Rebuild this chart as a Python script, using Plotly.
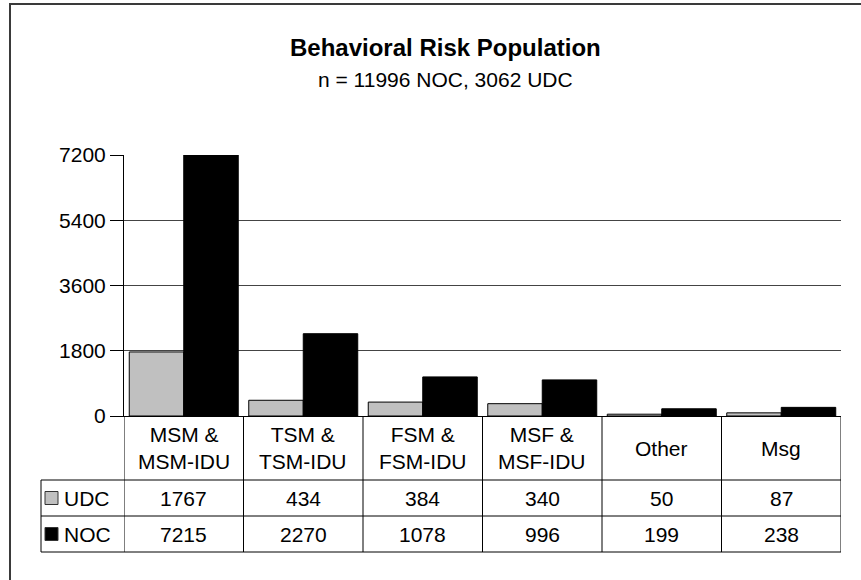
import plotly.graph_objects as go

categories = ["MSM &<br>MSM-IDU", "TSM &<br>TSM-IDU", "FSM &<br>FSM-IDU", "MSF &<br>MSF-IDU", "Other", "Msg"]
series_names = ["UDC", "NOC"]
udc_values = [1767, 434, 384, 340, 50, 87]
noc_values = [7215, 2270, 1078, 996, 199, 238]
y_ticks = [0, 1800, 3600, 5400, 7200]
title_text = "Behavioral Risk Population"
subtitle_text = "n = 11996 NOC, 3062 UDC"

colors = ["#C0C0C0", "#000000"]
FONT = "Liberation Sans, Arial, sans-serif"

W, H = 861, 580
AX_L, AX_R, AX_T, AX_B = 124, 841, 155, 416   # plot area in window pixels
L, R, T, B = AX_L, W - AX_R, AX_T, H - AX_B
PW, PH = W - L - R, H - T - B


def fx(px):
    return (px - AX_L) / PW


def fy(py):
    return (AX_B - py) / PH


xs = list(range(len(categories)))
fig = go.Figure()
for name, vals, col in zip(series_names, [udc_values, noc_values], colors):
    fig.add_trace(go.Bar(x=xs, y=vals, name=name, marker=dict(color=col, line=dict(color="black", width=1))))

shapes = []
# outer frame
shapes.append(dict(type="rect", xref="paper", yref="paper", x0=fx(10), y0=fy(4), x1=fx(905), y1=fy(640),
                   line=dict(color="#3a3a3a", width=2), layer="below"))
# data table lines
row_y = [480, 516, 552]
for yy in row_y:
    shapes.append(dict(type="line", xref="paper", yref="paper", x0=fx(41), x1=fx(841), y0=fy(yy), y1=fy(yy),
                       line=dict(color="black", width=1)))
shapes.append(dict(type="line", xref="paper", yref="paper", x0=fx(41), x1=fx(41), y0=fy(480), y1=fy(552),
                   line=dict(color="black", width=1)))
for k in range(len(categories) + 1):
    shapes.append(dict(type="line", xref="x", yref="paper", x0=k - 0.5, x1=k - 0.5, y0=fy(416), y1=fy(552),
                       line=dict(color="black", width=1)))
# legend keys
for i, col in enumerate(colors):
    cy = (498, 534)[i]
    shapes.append(dict(type="rect", xref="paper", yref="paper", x0=fx(45), x1=fx(58), y0=fy(cy - 6.5), y1=fy(cy + 6.5),
                       fillcolor=col, line=dict(color="#333333", width=1)))

annotations = []
annotations.append(dict(text="<b>" + title_text + "</b>", xref="paper", yref="paper", x=fx(445), y=fy(47),
                        xanchor="center", yanchor="middle", showarrow=False, font=dict(size=24, family=FONT, color="black")))
annotations.append(dict(text=subtitle_text, xref="paper", yref="paper", x=fx(445), y=fy(79),
                        xanchor="center", yanchor="middle", showarrow=False, font=dict(size=21, family=FONT, color="black")))
for i, c in enumerate(categories):
    annotations.append(dict(text=c, xref="x", yref="paper", x=i, y=fy(448), xanchor="center", yanchor="middle",
                            showarrow=False, font=dict(size=21, family=FONT, color="black")))
for r, (name, vals) in enumerate(zip(series_names, [udc_values, noc_values])):
    cy = (498, 534)[r]
    annotations.append(dict(text=name, xref="paper", yref="paper", x=fx(62), y=fy(cy), xanchor="left", yanchor="middle",
                            showarrow=False, font=dict(size=21, family=FONT, color="black")))
    for i, v in enumerate(vals):
        annotations.append(dict(text=str(v), xref="x", yref="paper", x=i, y=fy(cy), xanchor="center", yanchor="middle",
                                showarrow=False, font=dict(size=21, family=FONT, color="black")))

fig.update_layout(
    width=W, height=H,
    margin=dict(l=L, r=R, t=T, b=B, pad=0),
    paper_bgcolor="white", plot_bgcolor="white",
    barmode="group", bargap=0.088, bargroupgap=0,
    showlegend=False,
    font=dict(family=FONT, size=21, color="black"),
    shapes=shapes, annotations=annotations,
    xaxis=dict(range=[-0.5, len(categories) - 0.5], showticklabels=False, ticks="", showgrid=False,
               showline=True, linecolor="black", linewidth=1, zeroline=False, fixedrange=True),
    yaxis=dict(range=[0, 7200], tickvals=y_ticks, ticktext=[str(t) for t in y_ticks], ticks="outside", ticklen=13,
               tickcolor="black", tickwidth=1, showgrid=True, gridcolor="#444444", gridwidth=1,
               showline=True, linecolor="black", linewidth=1, zeroline=False,
               tickfont=dict(size=21, family=FONT, color="black"), fixedrange=True),
)

fig.write_html("out.html", config={"displayModeBar": False, "staticPlot": True},
               post_script="document.body.style.margin='0';document.body.style.overflow='hidden';")
